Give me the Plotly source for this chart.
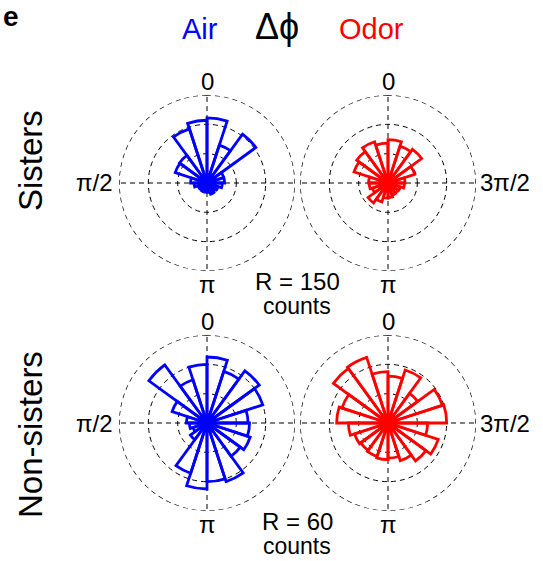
import plotly.graph_objects as go

W, H = 543, 561

# 20 phase-difference bins of 18 deg, bin i spans [18*i, 18*i + 18] deg
n_bins = 20
bin_width = 360 / n_bins
bin_centers = [bin_width * (i + 0.5) for i in range(n_bins)]

# histogram counts per bin
sisters_air = [107, 97, 58, 57, 28, 22, 16, 14, 16, 15,
               16, 20, 18, 20, 26, 30, 30, 103, 68, 111]
sisters_odor = [68, 74, 66, 61, 33, 32, 28, 42, 34, 26,
                25, 22, 21, 22, 28, 29, 48, 71, 66, 74]
nonsisters_air = [40, 31, 49, 25, 14, 12, 10, 14, 36, 45,
                  40, 42, 28, 31, 29, 28, 40, 44, 37, 45]
nonsisters_odor = [35, 47, 46, 33, 35, 27, 24, 23, 24, 25,
                   24, 27, 32, 36, 27, 40, 39, 25, 38, 32]

row_labels = ["Sisters", "Non-sisters"]
row_rmax = [150, 60]
col_names = ["Air", "Odor"]
col_colors = ["#0000ff", "#ff0000"]
panel_data = [[sisters_air, sisters_odor], [nonsisters_air, nonsisters_odor]]

# pixel geometry of the four rose plots
centers_x = [207, 388]
centers_y = [183, 423]
radius = 88

FONT = "Arial, Liberation Sans, Helvetica, sans-serif"
DASH = "5px,4px"
GRID_W = 1.4


def fx(x):
    return x / W


def fy(y):
    return 1 - y / H


fig = go.Figure()
layout_polars = {}
k = 0
for r, row in enumerate(panel_data):
    rmax = row_rmax[r]
    for c, counts in enumerate(row):
        k += 1
        name = "polar" if k == 1 else f"polar{k}"
        cx, cy = centers_x[c], centers_y[r]
        # outer dashed boundary circle
        ring_theta = [i * 2 for i in range(181)]
        fig.add_trace(go.Scatterpolar(
            r=[rmax] * len(ring_theta), theta=ring_theta, mode="lines",
            line=dict(color="black", width=GRID_W, dash=DASH),
            hoverinfo="skip", showlegend=False, subplot=name))
        fig.add_trace(go.Barpolar(
            r=counts, theta=bin_centers, width=[bin_width] * n_bins,
            marker=dict(color="rgba(0,0,0,0)",
                        line=dict(color=col_colors[c], width=2.8)),
            showlegend=False, subplot=name, name=col_names[c]))
        layout_polars[name] = dict(
            domain=dict(x=[fx(cx - radius), fx(cx + radius)],
                        y=[fy(cy + radius), fy(cy - radius)]),
            bgcolor="rgba(0,0,0,0)",
            radialaxis=dict(range=[0, rmax], tickvals=[rmax / 3, 2 * rmax / 3],
                            showticklabels=False, ticks="", showline=False,
                            gridcolor="black", griddash=DASH, gridwidth=GRID_W),
            angularaxis=dict(rotation=90, direction="counterclockwise",
                             tickvals=[0, 90, 180, 270], showticklabels=False,
                             ticks="", showline=False,
                             gridcolor="black", griddash=DASH, gridwidth=GRID_W),
        )

fig.update_layout(**layout_polars)

ann = []


def text(x, y, s, size, color="black", xanchor="center", **kw):
    ann.append(dict(x=fx(x), y=fy(y), xref="paper", yref="paper", text=s,
                    showarrow=False, xanchor=xanchor, yanchor="middle",
                    font=dict(family=FONT, size=size, color=color), **kw))


# header
text(200, 29, "Air", 29, col_colors[0])
text(277, 26, "\u0394\u03d5", 36)
text(371, 29, "Odor", 29, col_colors[1])
text(1, 16, "<b>e</b>", 28, xanchor="left")

# angle labels
for r in range(2):
    cy = centers_y[r]
    for c in range(2):
        cx = centers_x[c]
        text(cx, cy - radius - 14, "0", 24)
        text(cx, cy + radius + 13, "\u03c0", 24)
    text(centers_x[0] - radius - 4, cy, "\u03c0/2", 24, xanchor="right")
    text(centers_x[1] + radius + 2, cy, "3\u03c0/2", 24, xanchor="left")
    # scale annotation
    text(297, cy + 98, f"R = {row_rmax[r]}", 24)
    text(297, cy + 123, "counts", 23)
    # row label
    text(30, cy - 22 if r == 0 else cy + 12, row_labels[r], 33, textangle=-90)

fig.update_layout(annotations=ann, width=W, height=H,
                  margin=dict(l=0, r=0, t=0, b=0),
                  paper_bgcolor="white", plot_bgcolor="white")

fig.write_html("out.html")
